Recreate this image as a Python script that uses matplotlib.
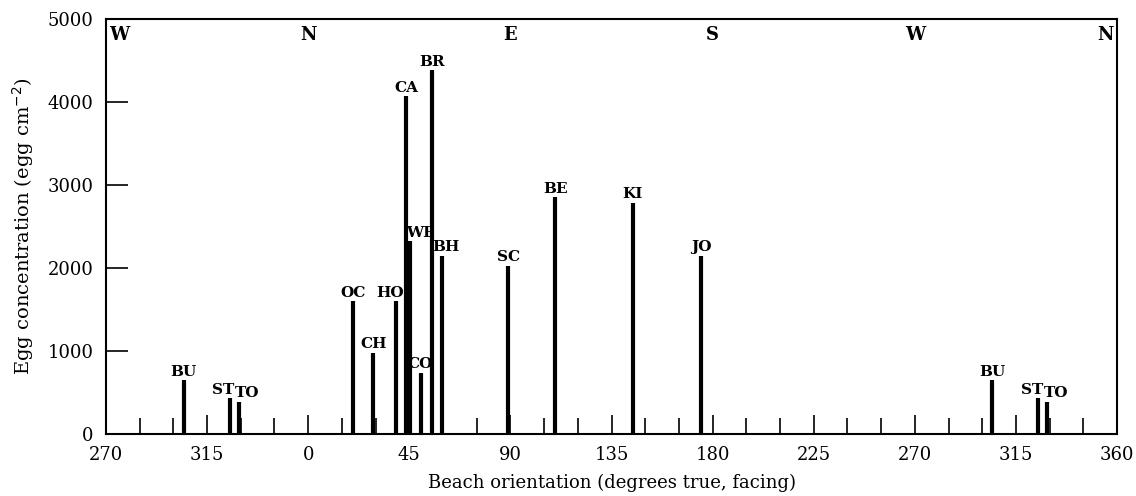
import numpy as np
import matplotlib.pyplot as plt

# Beach codes, orientation (degrees true, facing) and egg concentration
beaches = ["BU", "ST", "TO", "OC", "CH", "HO", "CA", "WE", "CO", "BR", "BH",
           "SC", "BE", "KI", "JO"]
orientation = [304.5, 325, 329, 20, 29, 39, 43.5, 45.5, 50, 55, 59.5,
               89, 110, 144.5, 175]
eggs = [650, 430, 390, 1600, 980, 1600, 4070, 2330, 740, 4390, 2150,
        2030, 2860, 2790, 2150]

compass = ["W", "N", "E", "S", "W", "N"]
compass_deg = [-90, 0, 90, 180, 270, 360]

xtick_pos = np.arange(-90, 361, 45)
xtick_labels = ["270", "315", "0", "45", "90", "135", "180", "225", "270", "315", "360"]

plt.rcParams['font.family'] = ['DejaVu Serif']

fig = plt.figure(figsize=(11.36, 4.96), dpi=100)
ax = fig.add_axes([0.0933, 0.125, 0.89, 0.836])

# the axis runs from 270 round to 360, so the NW beaches appear twice
xs, ys, names = [], [], []
for name, d, v in zip(beaches, orientation, eggs):
    xs.append(d); ys.append(v); names.append(name)
    if d > 270:
        xs.append(d - 360); ys.append(v); names.append(name)

ax.vlines(xs, 0, ys, color='black', linewidth=3.0, zorder=3)

# small nudges so crowded labels sit like in the original
nudge = {"HO": -2.5, "ST": -2.7, "TO": 4.0, "WE": 4.3, "BH": 1.7}
for x, y, n in zip(xs, ys, names):
    ax.text(x + nudge.get(n, 0), y + 15, n, ha='center', va='bottom',
            fontsize=11, fontweight='bold', zorder=4)

for lab, d in zip(compass, compass_deg):
    ha = 'center'
    xpos = d
    if d == -90:
        ha, xpos = 'left', d + 1.5
    elif d == 360:
        ha, xpos = 'right', d - 1.5
    ax.text(xpos, 4810, lab, ha=ha, va='center', fontsize=13, fontweight='bold')

ax.set_xlim(-90, 360)
ax.set_ylim(0, 5000)
ax.set_xticks(xtick_pos)
ax.set_xticklabels(xtick_labels)
ax.set_xticks(np.arange(-90, 361, 15), minor=True)
ax.set_yticks(np.arange(0, 5001, 1000))

ax.tick_params(axis='x', which='major', direction='in', length=14, width=1.2,
               pad=9, labelsize=13, top=False)
ax.tick_params(axis='x', which='minor', direction='in', length=11.5, width=1.2, top=False)
ax.tick_params(axis='y', direction='in', length=16, width=1.2, pad=9,
               labelsize=13, right=False)

for sp in ax.spines.values():
    sp.set_linewidth(1.5)

ax.set_xlabel("Beach orientation (degrees true, facing)", fontsize=13, labelpad=7)
ax.set_ylabel("Egg concentration (egg cm$^{-2}$)", fontsize=14, labelpad=8)

fig.savefig("out.png", dpi=100)
